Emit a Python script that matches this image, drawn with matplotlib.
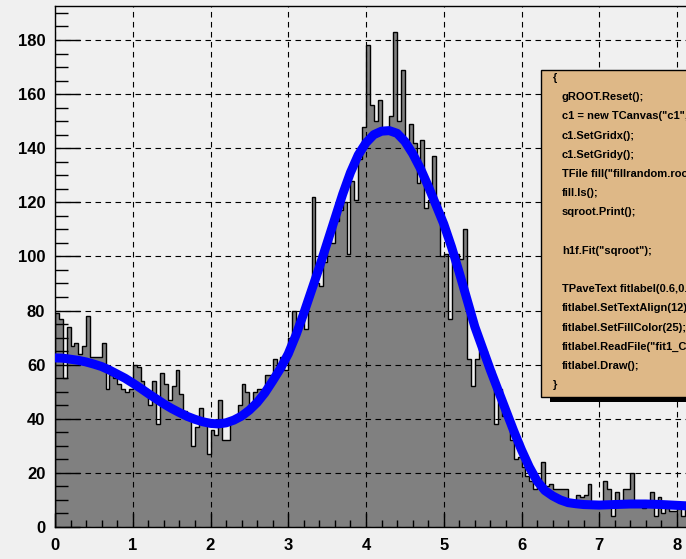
import numpy as np
import matplotlib
matplotlib.use('Agg')
import matplotlib.pyplot as plt
from matplotlib.patches import Rectangle
from matplotlib.ticker import MultipleLocator

# histogram h1f: 0.05 wide bins starting at 0
bin_width = 0.05
counts = [79, 77, 55, 74, 67, 68, 64, 67, 78, 63,
          63, 63, 68, 51, 56, 55, 53, 51, 50, 51,
          60, 59, 54, 51, 45, 54, 38, 57, 53, 47,
          52, 58, 49, 43, 40, 30, 37, 44, 38, 27,
          36, 34, 47, 32, 32, 40, 41, 45, 53, 50,
          45, 50, 51, 51, 56, 56, 62, 58, 63, 58,
          70, 80, 75, 80, 73, 86, 122, 90, 89, 98,
          107, 105, 113, 117, 120, 101, 128, 121, 136, 148,
          178, 156, 150, 158, 147, 147, 152, 183, 150, 169,
          143, 149, 142, 127, 143, 118, 121, 137, 120, 100,
          101, 77, 102, 101, 99, 110, 62, 52, 62, 66,
          65, 58, 58, 38, 51, 41, 40, 32, 25, 26,
          22, 19, 17, 14, 15, 24, 15, 16, 14, 14,
          14, 14, 8, 10, 12, 11, 12, 16, 8, 8,
          9, 17, 14, 4, 13, 9, 14, 14, 20, 8,
          8, 7, 8, 13, 4, 11, 5, 7, 6, 6,
          8, 4, 7, 6]

# fitted "sqroot" curve
fit_x = [0.0, 0.1, 0.2, 0.3, 0.4, 0.5, 0.6, 0.7, 0.8, 0.9,
         1.0, 1.1, 1.2, 1.3, 1.4, 1.5, 1.6, 1.7, 1.8, 1.9,
         2.0, 2.1, 2.2, 2.3, 2.4, 2.5, 2.6, 2.7, 2.8, 2.9,
         3.0, 3.1, 3.2, 3.3, 3.4, 3.5, 3.6, 3.7, 3.8, 3.9,
         4.0, 4.1, 4.2, 4.3, 4.4, 4.5, 4.6, 4.7, 4.8, 4.9,
         5.0, 5.1, 5.2, 5.3, 5.4, 5.5, 5.6, 5.7, 5.8, 5.9,
         6.0, 6.1, 6.2, 6.3, 6.4, 6.5, 6.6, 6.7, 6.8, 6.9,
         7.0, 7.2, 7.4, 7.6, 7.8, 8.0, 8.2]
fit_y = [62.5, 62.4, 62.0, 61.6, 61.0, 60.2, 59.3, 58.0, 56.5, 55.0,
         53.2, 51.3, 49.3, 47.4, 45.5, 43.8, 42.3, 40.9, 39.8, 38.9,
         38.3, 38.1, 38.5, 39.5, 41.0, 43.2, 46.0, 49.6, 54.0, 58.6,
         64.0, 71.0, 79.0, 87.5, 96.0, 105.0, 114.0, 123.0, 131.0, 137.5,
         142.0, 145.0, 146.3, 146.5, 145.5, 142.5, 138.0, 132.5, 126.0, 119.0,
         112.0, 103.5, 94.0, 84.0, 74.0, 66.0, 58.0, 50.5, 43.0, 35.5,
         28.5, 22.2, 17.0, 13.5, 11.5, 10.0, 9.0, 8.6, 8.3, 8.2,
         8.1, 8.3, 8.5, 8.5, 8.3, 8.0, 7.7]

macro_lines = ['{',
               'gROOT.Reset();',
               'c1 = new TCanvas("c1","The Fit Canvas",200,10,700,500);',
               'c1.SetGridx();',
               'c1.SetGridy();',
               'TFile fill("fillrandom.root");',
               'fill.ls();',
               'sqroot.Print();',
               '',
               'h1f.Fit("sqroot");',
               '',
               'TPaveText fitlabel(0.6,0.4,0.9,0.75,"NDC");',
               'fitlabel.SetTextAlign(12);',
               'fitlabel.SetFillColor(25);',
               'fitlabel.ReadFile("fit1_C.C");',
               'fitlabel.Draw();',
               '}']

W, H = 686, 559
bg = '#f0f0f0'
edges = np.arange(len(counts) + 1) * bin_width

fig = plt.figure(figsize=(W / 100, H / 100), dpi=100, facecolor=bg)
ax = fig.add_axes([55 / W, 1 - 527 / H, 1 - 55 / W, 521 / H])
ax.set_facecolor(bg)

ax.stairs(counts, edges, fill=True, color='#808080', zorder=1)
ax.stairs(counts, edges, color='black', lw=1.0, zorder=1.5)
ax.plot(fit_x, fit_y, color='#0000ff', lw=6.5, solid_joinstyle='round',
        zorder=3)

ax.set_xlim(0, 631 / 77.75)
ax.set_ylim(0, 521 / 2.7056)

ax.set_axisbelow(False)
ax.grid(True, which='major', color='black', lw=0.8, ls=(0, (5, 4)))

ax.xaxis.set_major_locator(MultipleLocator(1))
ax.xaxis.set_minor_locator(MultipleLocator(0.2))
ax.yaxis.set_major_locator(MultipleLocator(20))
ax.yaxis.set_minor_locator(MultipleLocator(5))

ax.tick_params(axis='x', which='major', direction='in', length=10, width=1,
               pad=8, labelsize=12)
ax.tick_params(axis='x', which='minor', direction='in', length=5, width=1)
ax.tick_params(axis='y', which='major', direction='in', length=18, width=1,
               pad=7, labelsize=12)
ax.tick_params(axis='y', which='minor', direction='in', length=9, width=1)
for lab in ax.get_xticklabels() + ax.get_yticklabels():
    lab.set_fontfamily('Liberation Sans')
    lab.set_fontweight('bold')

for s in ['left', 'bottom', 'top']:
    ax.spines[s].set_linewidth(1.0)
ax.spines['right'].set_visible(False)

# pave with the macro text (its right side runs off the canvas)
box_left, box_top, box_bottom = 541, 70, 397
shadow = Rectangle(((box_left + 9) / W, 1 - (box_bottom + 5) / H), 0.5,
                   (box_bottom - box_top) / H, transform=fig.transFigure,
                   facecolor='black', edgecolor='none', zorder=4)
pave = Rectangle((box_left / W, 1 - box_bottom / H), 0.5,
                 (box_bottom - box_top) / H, transform=fig.transFigure,
                 facecolor='#deb887', edgecolor='black', lw=1, zorder=5)
fig.patches.extend([shadow, pave])

for i, line in enumerate(macro_lines):
    if not line:
        continue
    x = 553 if line in ('{', '}') else 562
    y = 78 + 19.2 * i
    fig.text(x / W, 1 - y / H, line, fontsize=8, fontweight='bold',
             family='Liberation Sans', ha='left', va='center', zorder=6)

fig.savefig('out.png', dpi=100, facecolor=bg)
